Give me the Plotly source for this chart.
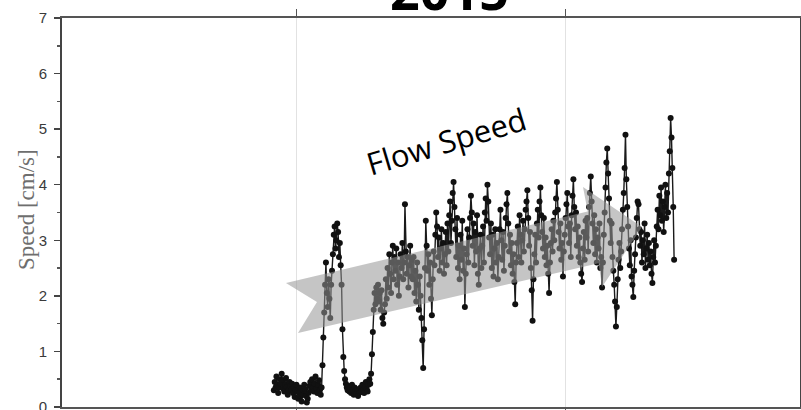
import plotly.graph_objects as go

# ---------------- data ----------------
start_day = 24.4          # first sample (days on the x axis)
step_day = 0.1            # sampling interval (days)
speed_cm_s = [
    0.30, 0.45, 0.35, 0.55, 0.40, 0.25, 0.35, 0.50, 0.42, 0.60, 0.48, 0.33, 0.28, 0.40, 0.52, 0.36, 0.22, 0.30, 0.45, 0.38,
    0.30, 0.42, 0.25, 0.35, 0.18, 0.30, 0.40, 0.28, 0.15, 0.25, 0.35, 0.20, 0.10, 0.22, 0.30, 0.40, 0.32, 0.20, 0.08, 0.15,
    0.25, 0.38, 0.45, 0.30, 0.50, 0.35, 0.28, 0.42, 0.55, 0.33, 0.25, 0.40, 0.48, 0.30, 0.22, 0.35, 0.75, 1.25, 1.70, 2.20,
    2.60, 2.05, 1.80, 2.30, 1.95, 1.60, 2.20, 2.45, 2.75, 3.10, 3.25, 2.85, 3.00, 3.30, 3.15, 2.70, 2.95, 2.55, 2.20, 1.40,
    0.90, 0.65, 0.50, 0.42, 0.35, 0.30, 0.38, 0.28, 0.33, 0.25, 0.40, 0.30, 0.22, 0.35, 0.28, 0.24, 0.32, 0.20, 0.30, 0.26,
    0.35, 0.28, 0.40, 0.30, 0.25, 0.38, 0.45, 0.32, 0.28, 0.40, 0.50, 0.42, 0.60, 0.95, 1.35, 1.75, 2.05, 1.85, 2.15, 1.95,
    2.20, 1.90, 2.05, 1.75, 2.10, 1.60, 1.50, 1.70, 1.85, 2.30, 1.95, 2.50, 2.15, 2.75, 2.40, 2.05, 2.60, 2.90, 2.30, 2.70,
    2.45, 2.85, 2.20, 2.60, 2.00, 2.35, 2.75, 2.50, 2.95, 2.30, 2.60, 3.65, 2.80, 2.40, 2.70, 2.15, 2.55, 2.90, 2.35, 2.65,
    2.30, 2.70, 2.05, 2.45, 1.90, 2.60, 2.20, 1.75, 2.35, 2.00, 1.60, 1.20, 0.70, 1.40, 2.50, 3.35, 2.90, 2.45, 2.75, 2.20,
    2.60, 1.95, 1.65, 2.30, 2.80, 2.55, 3.10, 3.50, 3.25, 2.70, 3.05, 2.45, 2.85, 3.20, 2.60, 2.95, 2.40, 2.75, 3.15, 2.55,
    3.30, 2.80, 3.45, 3.70, 2.95, 3.35, 3.85, 4.05, 3.60, 3.20, 2.70, 3.40, 2.50, 2.90, 2.30, 3.10, 2.65, 3.35, 2.45, 2.85,
    1.80, 2.40, 2.75, 3.20, 2.60, 3.05, 3.40, 3.80, 3.50, 2.90, 3.30, 2.55, 3.15, 2.80, 3.45, 2.40, 2.20, 2.85, 3.10, 2.50,
    2.90, 3.25, 2.60, 3.50, 3.75, 3.35, 4.00, 3.70, 3.05, 2.75, 3.30, 2.50, 3.10, 2.35, 2.85, 3.20, 2.60, 2.95, 2.30, 2.70,
    3.20, 3.55, 3.00, 2.65, 3.15, 2.45, 2.90, 3.40, 3.65, 3.85, 3.30, 2.80, 3.10, 2.55, 2.95, 2.40, 2.75, 2.25, 1.85, 2.60,
    2.95, 3.25, 2.70, 3.45, 3.10, 2.60, 3.00, 3.35, 2.80, 3.20, 3.55, 3.70, 3.90, 3.40, 2.90, 3.15, 2.50, 2.10, 1.55, 2.30,
    2.75, 3.10, 2.60, 3.30, 3.55, 3.05, 3.70, 3.95, 3.45, 3.15, 2.85, 3.40, 2.70, 3.05, 2.55, 2.90, 2.40, 2.05, 2.60, 2.95,
    3.20, 2.80, 3.35, 3.00, 3.50, 3.75, 4.05, 3.55, 3.15, 2.85, 3.30, 2.65, 2.95, 2.35, 2.80, 3.10, 3.40, 3.65, 3.85, 3.25,
    2.95, 3.30, 2.70, 3.45, 3.80, 4.10, 3.60, 3.20, 3.50, 2.90, 3.25, 2.70, 3.05, 2.60, 2.40, 2.25, 2.85, 3.15, 2.65, 3.35,
    3.05, 3.40, 2.80, 3.60, 3.85, 4.15, 3.70, 3.30, 2.95, 3.45, 2.75, 3.20, 2.60, 3.05, 2.85, 3.30, 2.50, 2.70, 2.15, 2.60,
    3.10, 3.50, 3.95, 4.40, 4.65, 4.20, 3.75, 3.35, 2.95, 3.30, 2.70, 2.45, 2.20, 1.90, 1.45, 1.80, 2.30, 2.65, 2.95, 2.50,
    2.80, 3.20, 3.55, 3.85, 4.30, 4.90, 4.10, 3.60, 3.25, 2.85, 2.55, 3.00, 2.35, 2.20, 1.98, 2.45, 2.75, 3.05, 3.40, 3.70,
    3.65, 3.20, 2.90, 3.15, 2.60, 3.00, 2.75, 3.30, 2.50, 2.85, 3.10, 2.65, 2.95, 2.55, 2.80, 2.40, 2.23, 2.70, 3.00, 2.60,
    2.90, 3.25, 3.55, 3.20, 3.80, 3.45, 3.95, 3.35, 3.70, 3.15, 3.60, 4.00, 3.40, 3.85, 3.50, 4.20, 4.60, 5.20, 4.85, 4.30,
    3.60, 2.65,
]
days = [start_day + step_day * i for i in range(len(speed_cm_s))]

x_range = [0, 85]
x_tick_days = [27, 58]
y_range = [0, 7]
y_tick_vals = [0, 1, 2, 3, 4, 5, 6, 7]
title_text = "2015"
arrow_label = "Flow Speed"
y_title_text = "Speed [cm/s]"

# ---------------- layout helpers ----------------
W, H = 801, 410
ML, MR, MT, MB = 62, 1, 18, 3
PW, PH = W - ML - MR, H - MT - MB


def paper(px, py):
    return (px - ML) / PW, (H - MB - py) / PH


# arrow outline, in pixel positions of the picture
arrow_px = [(286, 283), (587.7, 211.5), (583, 187), (642, 227),
            (602, 287), (598.6, 263.2), (298, 333), (317, 302)]
pts = [paper(a, b) for a, b in arrow_px]
arrow_path = "M " + " L ".join(f"{a:.4f},{b:.4f}" for a, b in pts) + " Z"

fig = go.Figure()
fig.add_trace(go.Scatter(
    x=days, y=speed_cm_s, mode="lines+markers",
    line=dict(color="#1a1a1a", width=1.4),
    marker=dict(color="#111111", size=6, line=dict(width=0)),
    showlegend=False, hoverinfo="skip",
))

fig.add_shape(type="path", path=arrow_path, xref="paper", yref="paper",
              fillcolor="rgba(150,150,150,0.55)", line=dict(width=0),
              layer="above")

tx, ty = paper(449, 27)
fig.add_annotation(text=f"<b>{title_text}</b>", x=tx, y=ty, xref="paper", yref="paper",
                   xanchor="center", yanchor="bottom", showarrow=False,
                   font=dict(family="Open Sans", size=52, color="#000000"))

fx, fy = paper(446, 141)
fig.add_annotation(text=arrow_label, x=fx, y=fy, xref="paper", yref="paper",
                   xanchor="center", yanchor="middle", showarrow=False,
                   textangle=-16.5,
                   font=dict(family="Open Sans", size=31, color="#000000"))

yx, yy = paper(26, 210)
fig.add_annotation(text=y_title_text, x=yx, y=yy, xref="paper", yref="paper",
                   xanchor="center", yanchor="middle", showarrow=False,
                   textangle=-90,
                   font=dict(family="Liberation Serif", size=23, color="#6e6e6e"))

fig.update_layout(
    width=W, height=H,
    margin=dict(l=ML, r=MR, t=MT, b=MB, pad=0, autoexpand=False),
    paper_bgcolor="white", plot_bgcolor="white",
    showlegend=False,
)
fig.update_xaxes(
    range=x_range, tickvals=x_tick_days, showticklabels=False,
    showgrid=True, gridcolor="#e2e2e2", gridwidth=1, zeroline=False,
    showline=True, linecolor="#555555", linewidth=2, mirror="ticks",
    ticks="outside", ticklen=7, tickcolor="#555555", tickwidth=1,
)
fig.update_yaxes(
    range=y_range, tickvals=y_tick_vals, showgrid=False, zeroline=False,
    showline=True, linecolor="#444444", linewidth=2, mirror=True,
    ticks="outside", ticklen=6, tickcolor="#444444", tickwidth=1.5,
    ticklabelstandoff=4, ticklabeloverflow="allow",
    tickfont=dict(family="Liberation Sans", size=15, color="#3a3a3a"),
    minor=dict(dtick=0.5, ticks="outside", ticklen=3, tickcolor="#555555",
               tickwidth=1.5, showgrid=False),
)

fig.write_html("out.html",
               config={"displayModeBar": False, "staticPlot": True},
               post_script="document.body.style.margin='0px';document.body.style.overflow='hidden';")
